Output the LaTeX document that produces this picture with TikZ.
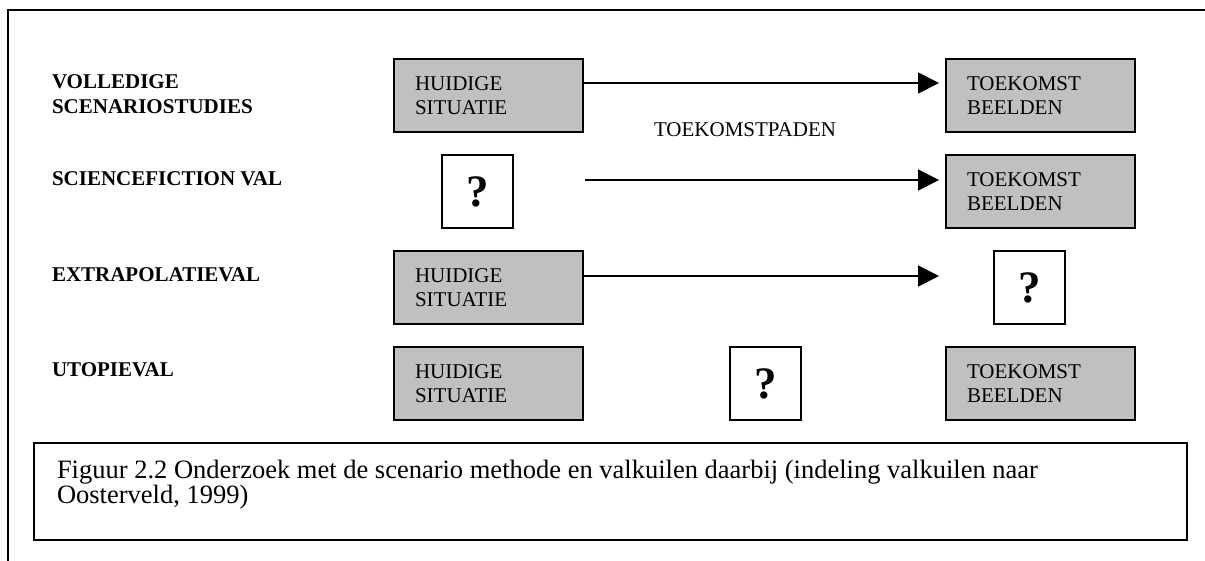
\documentclass[tikz,border=0pt]{standalone}
\usepackage{fontspec}
\setmainfont{Liberation Serif}
\usetikzlibrary{arrows.meta}
\definecolor{boxgray}{HTML}{C0C0C0}
% question mark, set a little low and left of the box centre
\newcommand\vraagteken{\raisebox{-3.5pt}{?}\hspace{7pt}}

\begin{document}
\begin{tikzpicture}[x=1pt,y=-1pt,
  every node/.style={inner sep=0pt, outer sep=0pt},
  grijs/.style={draw=black, line width=1.7pt, fill=boxgray, anchor=north west,
    minimum height=73pt, text width=147pt, inner xsep=21pt, align=left,
    font=\fontsize{21}{24.5}\selectfont},
  vraag/.style={draw=black, line width=1.7pt, fill=white, anchor=north west,
    minimum width=71pt, minimum height=73pt,
    font=\fontsize{45}{45}\selectfont\bfseries},
  rij/.style={anchor=north west, align=left,
    font=\fontsize{21}{24.5}\selectfont\bfseries},
  pijl/.style={line width=1.8pt, -{Triangle[length=21pt,width=21pt]}},
]
\useasboundingbox (0,0) rectangle (1205,560);
\clip (0,0) rectangle (1205,560);

% outer frame (runs past the right and bottom edges)
\draw[line width=2.6pt] (8,10) rectangle (1230,600);

% row labels
\node[rij] (l1) at (52,75) {VOLLEDIGE\\SCENARIOSTUDIES};
\node[rij] (l2) at (52,172) {SCIENCEFICTION VAL};
\node[rij] (l3) at (52,268) {EXTRAPOLATIEVAL};
\node[rij] (l4) at (52,363) {UTOPIEVAL};

% row 1: volledige scenariostudies
\node[grijs] (h1) at (394,59) {HUIDIGE\\SITUATIE};
\node[grijs] (t1) at (946,59) {TOEKOMST\\BEELDEN};
\coordinate (r1) at (0,83);
\draw[pijl, shorten >=7pt] (h1.east |- r1) -- (t1.west |- r1);
\node[anchor=base west, font=\fontsize{21}{24.5}\selectfont] (pad) at (654,136.5) {TOEKOMSTPADEN};

% row 2: sciencefiction val
\node[vraag] (q2) at (442,155) {\vraagteken};
\node[grijs] (t2) at (946,155) {TOEKOMST\\BEELDEN};
\coordinate (s2) at (585,180);
\draw[pijl, shorten >=7pt] (s2) -- (t2.west |- s2);

% row 3: extrapolatieval
\node[grijs] (h3) at (394,251) {HUIDIGE\\SITUATIE};
\node[vraag] (q3) at (994,251) {\vraagteken};
\coordinate (e3) at (939,276);
\draw[pijl] (h3.east |- e3) -- (e3);

% row 4: utopieval
\node[grijs] (h4) at (394,347) {HUIDIGE\\SITUATIE};
\node[vraag] (q4) at (730,347) {\vraagteken};
\node[grijs] (t4) at (946,347) {TOEKOMST\\BEELDEN};

% caption
\node[draw=black, line width=2.2pt, anchor=north west, minimum width=1153pt,
      minimum height=97pt] (capbox) at (34,443) {};
\node[anchor=north west, align=left, font=\fontsize{26.5}{25}\selectfont] (captxt) at (57,460)
  {Figuur 2.2 Onderzoek met de scenario methode en valkuilen daarbij (indeling valkuilen naar\\Oosterveld, 1999)};
\end{tikzpicture}
\end{document}
